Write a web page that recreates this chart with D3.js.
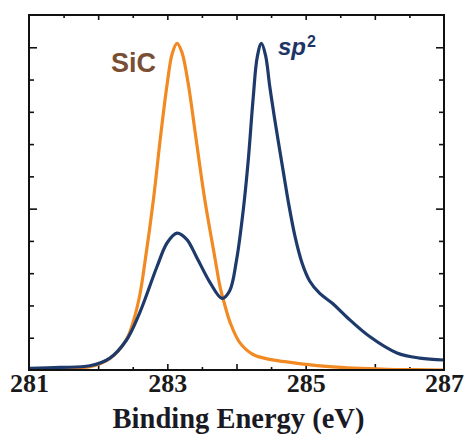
<!DOCTYPE html>
<html>
<head>
<meta charset="utf-8">
<script src="https://cdn.jsdelivr.net/npm/d3@7"></script>
<style>
  body { margin: 0; background: #fff; }
</style>
</head>
<body>
<svg class="xps-plot"></svg>
<script>
// SiC component
const sicEnergy = [281.0, 281.5, 281.88, 282.17, 282.41, 282.5, 282.6, 282.68, 282.8, 282.9, 283.0, 283.07, 283.14, 283.21, 283.3, 283.4, 283.54, 283.69, 283.76, 283.82, 283.91, 284.05, 284.24, 284.5, 284.73, 285.1, 285.45, 285.8, 286.18, 286.6, 287.0];
const sicIntensity = [0.0, 0.04, 0.1, 0.36, 0.95, 1.45, 2.3, 3.4, 5.3, 7.2, 8.9, 9.8, 10.12, 9.85, 8.9, 7.4, 5.3, 3.45, 2.6, 2.1, 1.46, 0.84, 0.48, 0.32, 0.25, 0.15, 0.09, 0.05, 0.02, 0.01, 0.0];

// sp2 component
const sp2Energy = [281.0, 281.45, 281.88, 282.17, 282.41, 282.6, 282.85, 283.0, 283.14, 283.28, 283.42, 283.62, 283.79, 283.9, 284.0, 284.1, 284.17, 284.24, 284.3, 284.36, 284.42, 284.48, 284.55, 284.68, 284.75, 284.85, 284.95, 285.06, 285.2, 285.39, 285.59, 285.93, 286.32, 286.65, 287.0];
const sp2Intensity = [0.05, 0.08, 0.13, 0.37, 0.93, 1.77, 3.2, 3.95, 4.24, 4.05, 3.51, 2.7, 2.22, 2.45, 3.4, 5.0, 6.5, 8.4, 9.7, 10.12, 9.75, 8.8, 7.8, 6.1, 5.2, 4.1, 3.3, 2.75, 2.38, 2.06, 1.65, 1.03, 0.53, 0.37, 0.31];

const xLabels = [281, 283, 285, 287];

const margin = { left: 29, right: 24, top: 15, bottom: 71 };
const width = 468, height = 441;
const w = width - margin.left - margin.right;
const h = height - margin.top - margin.bottom;

const svg = d3.select(".xps-plot")
    .attr("width", width)
    .attr("height", height);

const xScale = d3.scaleLinear().domain([281, 287]).range([0, w]);
const yScale = d3.scaleLinear().domain([0, 11]).range([h, 0]);

const plot = svg.append("g")
    .attr("transform", `translate(${margin.left}, ${margin.top})`);

plot.append("clipPath").attr("id", "clip")
    .append("rect").attr("width", w).attr("height", h);

// minor/major tick helpers (ticks point inward)
const xMinor = d3.range(281.5, 287, 0.5).filter(d => d % 1 !== 0);
const xMajor = d3.range(282, 287, 1);
const yMinor = d3.range(1, 11).filter(d => d % 5 !== 0);
const yMajor = [5, 10];

function tickAxes(axisFn, scale, values, size, transform) {
    plot.append("g")
        .attr("transform", transform)
        .call(axisFn(scale).tickValues(values).tickSize(size).tickFormat(""))
        .call(g => g.select(".domain").remove())
        .call(g => g.selectAll("line").attr("stroke", "#111").attr("stroke-width", 1.6));
}

tickAxes(d3.axisBottom, xScale, xMinor, -3, `translate(0, ${h})`);
tickAxes(d3.axisBottom, xScale, xMajor, -6, `translate(0, ${h})`);
tickAxes(d3.axisTop, xScale, xMinor, -3, "translate(0, 0)");
tickAxes(d3.axisTop, xScale, xMajor, -5, "translate(0, 0)");
tickAxes(d3.axisLeft, yScale, yMinor, -5, "translate(0, 0)");
tickAxes(d3.axisLeft, yScale, yMajor, -8, "translate(0, 0)");
tickAxes(d3.axisRight, yScale, yMinor, -5, `translate(${w}, 0)`);
tickAxes(d3.axisRight, yScale, yMajor, -8, `translate(${w}, 0)`);

// curves
const line = (xs, ys) => d3.line()
    .x((d, i) => xScale(xs[i]))
    .y(d => yScale(d))
    .curve(d3.curveCatmullRom.alpha(0.5))(ys);

plot.append("path")
    .attr("clip-path", "url(#clip)")
    .attr("d", line(sicEnergy, sicIntensity))
    .attr("fill", "none")
    .attr("stroke", "#f28a24")
    .attr("stroke-width", 3.2);

plot.append("path")
    .attr("clip-path", "url(#clip)")
    .attr("d", line(sp2Energy, sp2Intensity))
    .attr("fill", "none")
    .attr("stroke", "#1d3a6b")
    .attr("stroke-width", 3.2);

// frame
plot.append("rect")
    .attr("width", w)
    .attr("height", h)
    .attr("fill", "none")
    .attr("stroke", "#111")
    .attr("stroke-width", 2);

// x tick labels
plot.append("g")
    .attr("transform", `translate(0, ${h})`)
    .call(d3.axisBottom(xScale).tickValues(xLabels).tickSize(0).tickPadding(4).tickFormat(d3.format("d")))
    .call(g => g.select(".domain").remove())
    .call(g => g.selectAll("text")
        .attr("font-family", "Liberation Serif, Times New Roman, serif")
        .attr("font-weight", "bold")
        .attr("font-size", 26)
        .attr("fill", "#1a1a1a"));

// axis title
svg.append("text")
    .attr("x", margin.left + w / 2 + 2)
    .attr("y", 428)
    .attr("text-anchor", "middle")
    .attr("font-family", "Liberation Serif, Times New Roman, serif")
    .attr("font-weight", "bold")
    .attr("font-size", 28.5)
    .attr("fill", "#1a1a24")
    .text("Binding Energy (eV)");

// peak labels
svg.append("text")
    .attr("x", 111)
    .attr("y", 72)
    .attr("font-family", "Liberation Sans, Arial, sans-serif")
    .attr("font-weight", "bold")
    .attr("font-size", 27)
    .attr("fill", "#7a4e32")
    .text("SiC");

const sp2 = svg.append("text")
    .attr("x", 278)
    .attr("y", 55)
    .attr("font-family", "Liberation Sans, Arial, sans-serif")
    .attr("font-weight", "bold")
    .attr("font-style", "italic")
    .attr("font-size", 24)
    .attr("fill", "#1d3566");
sp2.append("tspan").text("sp");
sp2.append("tspan")
    .attr("dy", -8)
    .attr("dx", 1)
    .attr("font-size", 16)
    .attr("font-style", "normal")
    .text("2");
</script>
</body>
</html>
